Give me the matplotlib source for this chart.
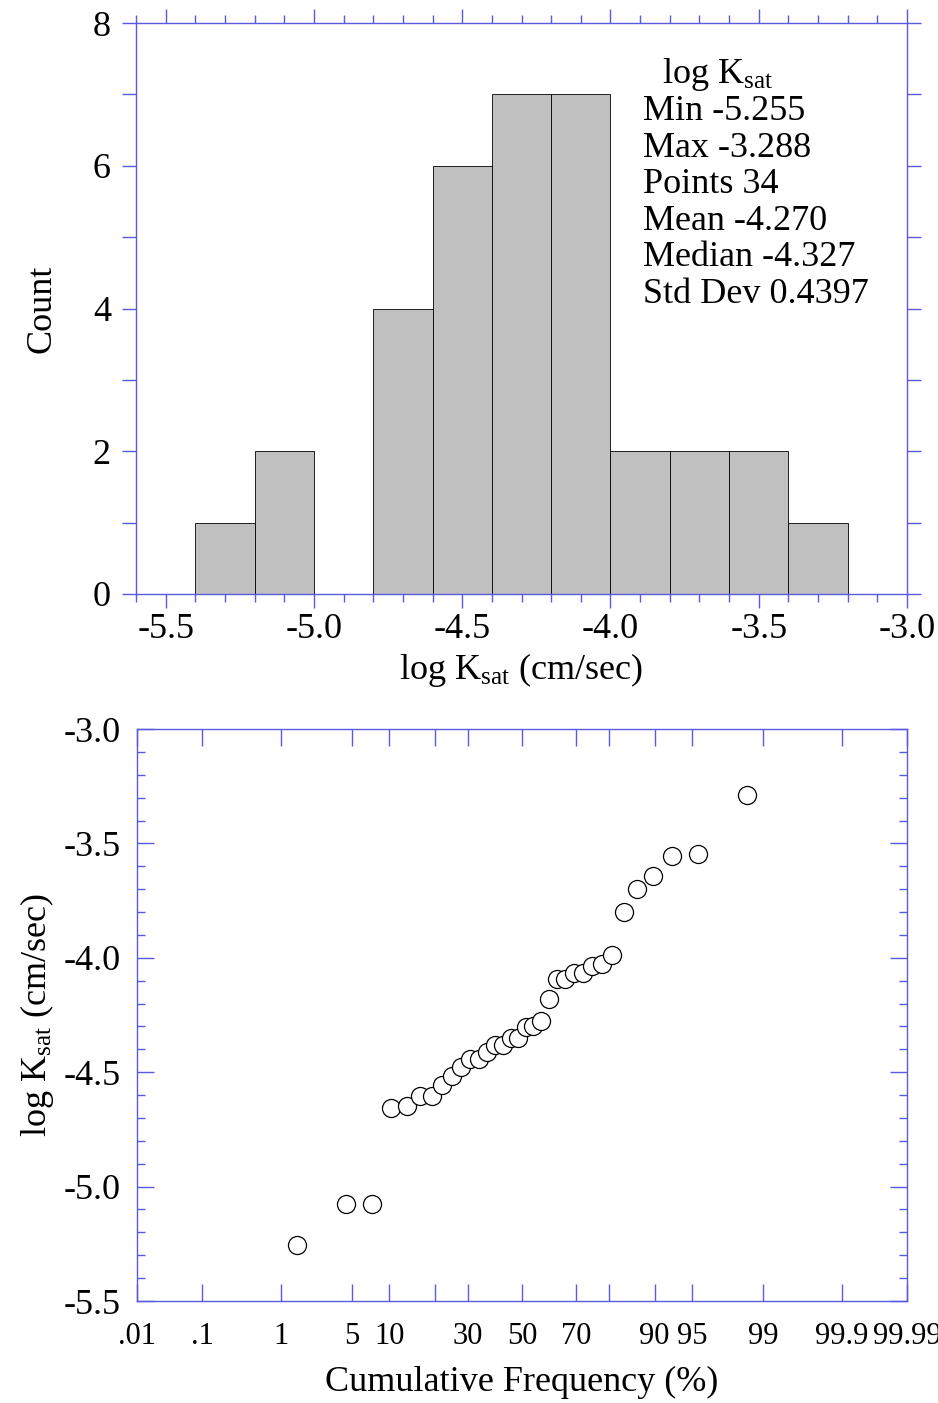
import numpy as np
import matplotlib
matplotlib.use('Agg')
import matplotlib.pyplot as plt
from matplotlib.ticker import MultipleLocator, FixedLocator, FixedFormatter, NullLocator
from statistics import NormalDist

plt.rcParams['font.family'] = ['Liberation Serif', 'DejaVu Serif']
plt.rcParams['mathtext.fontset'] = 'custom'
plt.rcParams['mathtext.rm'] = 'Liberation Serif'
plt.rcParams['mathtext.it'] = 'Liberation Serif:italic'

# sorted log Ksat values (cm/sec)
log_ksat = np.array([
    -5.255, -5.076, -5.076,
    -4.656, -4.648, -4.604, -4.604,
    -4.556, -4.517, -4.478, -4.444, -4.444, -4.411,
    -4.381, -4.381, -4.352, -4.352, -4.302, -4.298, -4.276,
    -4.180, -4.093, -4.093, -4.066, -4.066, -4.036, -4.027,
    -3.986, -3.802,
    -3.699, -3.642,
    -3.555, -3.548,
    -3.288,
])
bin_edges = np.round(np.arange(-5.4, -3.19, 0.2), 1)

stats_title = r'log K$_{\rm sat}$'
stats_lines = ['Min -5.255', 'Max -3.288', 'Points 34', 'Mean -4.270',
               'Median -4.327', 'Std Dev 0.4397']

prob_ticks = [0.01, 0.1, 1, 5, 10, 20, 30, 50, 70, 80, 90, 95, 99, 99.9, 99.99]
prob_labels = ['.01', '.1', '1', '5', '10', '', '30', '50', '70', '',
               '90', '95', '99', '99.9', '99.99']

AX_COLOR = '#5a5ae0'
FS = 26

nd = NormalDist()
_ppf = np.vectorize(lambda p: nd.inv_cdf(min(max(p / 100.0, 1e-9), 1 - 1e-9)),
                    otypes=[float])
_cdf = np.vectorize(lambda z: nd.cdf(z) * 100.0, otypes=[float])


def style_axes(ax):
    for sp in ax.spines.values():
        sp.set_color(AX_COLOR)
        sp.set_linewidth(1.0)
    ax.tick_params(which='both', colors=AX_COLOR, labelcolor='black',
                   labelsize=FS, width=1.0)


fig = plt.figure(figsize=(9.38, 14.03), dpi=100)

# ---- histogram ----
ax1 = fig.add_axes([136 / 938, 1 - 594 / 1403, 771 / 938, 571 / 1403])
ax1.hist(log_ksat, bins=bin_edges, color='#c0c0c0', edgecolor='black',
         linewidth=0.6, zorder=2)
ax1.set_xlim(-5.6, -3.0)
ax1.set_ylim(0, 8)
style_axes(ax1)
ax1.xaxis.set_major_locator(MultipleLocator(0.5))
ax1.xaxis.set_minor_locator(MultipleLocator(0.1))
ax1.yaxis.set_major_locator(MultipleLocator(2))
ax1.yaxis.set_minor_locator(MultipleLocator(1))
ax1.xaxis.set_major_formatter(matplotlib.ticker.FormatStrFormatter('%.1f'))
ax1.tick_params(which='both', direction='out', top=True, right=True)
ax1.tick_params(which='major', length=10)
ax1.tick_params(which='minor', length=6)
ax1.tick_params(axis='y', which='minor', length=10)
ax1.tick_params(axis='x', pad=4)
ax1.tick_params(axis='y', pad=8)
ax1.set_xlabel(r'log K$_{\rm sat}$ (cm/sec)', fontsize=FS)
ax1.set_ylabel('Count', fontsize=FS)
ax1.xaxis.set_label_coords(0.5, -0.1)
ax1.yaxis.set_label_coords(-0.1, 0.5)

ax1.text(0.682, (594 - 83) / 571, stats_title, transform=ax1.transAxes,
         fontsize=FS, va='baseline', ha='left')
for i, line in enumerate(stats_lines):
    ax1.text(0.658, (594 - (120 + 36.6 * i)) / 571, line,
             transform=ax1.transAxes, fontsize=FS, va='baseline', ha='left')

# ---- probability plot ----
ax2 = fig.add_axes([137 / 938, 1 - 1301 / 1403, 770 / 938, 572 / 1403])
ax2.set_xscale('function', functions=(_ppf, _cdf))
n = len(log_ksat)
cum_freq = (np.arange(1, n + 1) - 0.5) / n * 100
ax2.plot(cum_freq, log_ksat, 'o', ms=13, mfc='white', mec='black',
         mew=0.9, zorder=3)
ax2.set_xlim(0.01, 99.99)
ax2.set_ylim(-5.5, -3.0)
style_axes(ax2)
ax2.xaxis.set_major_locator(FixedLocator(prob_ticks))
ax2.xaxis.set_major_formatter(FixedFormatter(prob_labels))
ax2.xaxis.set_minor_locator(NullLocator())
ax2.yaxis.set_major_locator(MultipleLocator(0.5))
ax2.yaxis.set_minor_locator(MultipleLocator(0.1))
ax2.yaxis.set_major_formatter(matplotlib.ticker.FormatStrFormatter('%.1f'))
ax2.tick_params(which='both', direction='in', top=True, right=True)
ax2.tick_params(which='major', length=12)
ax2.tick_params(which='minor', length=6)
ax2.tick_params(axis='x', pad=15, labelsize=22)
ax2.tick_params(axis='y', pad=12)
ax2.set_xlabel('Cumulative Frequency (%)', fontsize=FS)
ax2.set_ylabel(r'log K$_{\rm sat}$ (cm/sec)', fontsize=FS)
ax2.xaxis.set_label_coords(0.5, -0.113)
ax2.yaxis.set_label_coords(-0.105, 0.5)

fig.savefig('out.png', dpi=100)
